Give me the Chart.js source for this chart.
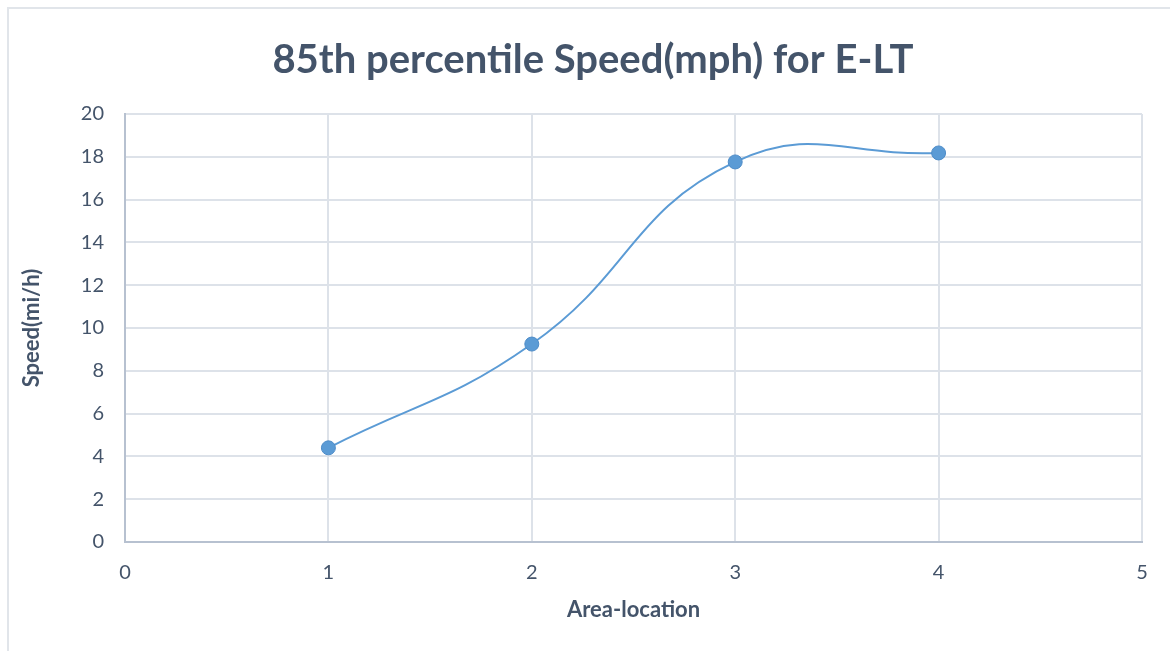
<!DOCTYPE html>
<html lang="en">
<head>
    <meta charset="UTF-8">
    <title>85th percentile Speed(mph) for E-LT</title>
    <script src="https://cdn.jsdelivr.net/npm/chart.js"></script>
    <style>
        body {
            margin: 0;
            background: #fff;
        }

        #frame {
            position: absolute;
            left: 7px;
            top: 7px;
            width: 1200px;
            height: 700px;
            border: 2px solid #E1E5EA;
        }

        #wrap {
            position: absolute;
            left: 0;
            top: 0;
            width: 1170px;
            height: 651px;
        }
    </style>
</head>
<body>
    <div id="frame"></div>
    <div id="wrap">
        <canvas id="speedChart"></canvas>
    </div>

    <script>
        // data
        const areaLocations = [1, 2, 3, 4];
        const speeds = [4.4, 9.25, 17.76, 18.18];
        const xTicks = [0, 1, 2, 3, 4, 5];
        const yTicks = [0, 2, 4, 6, 8, 10, 12, 14, 16, 18, 20];

        const textColor = '#44546A';
        const gridColor = '#DDE2E9';
        const axisColor = '#B7C1D0';
        const blue = '#5B9BD5';

        const points = areaLocations.map((x, i) => ({ x: x, y: speeds[i] }));

        // title sits centred on the whole chart frame, not just the padded box
        const shiftTitle = {
            id: 'shiftTitle',
            afterLayout: c => {
                if (c.titleBlock) {
                    c.titleBlock.left += 17;
                    c.titleBlock.right += 17;
                }
            }
        };

        const ctx = document.getElementById('speedChart').getContext('2d');
        const chart = new Chart(ctx, {
            type: 'scatter',
            data: {
                datasets: [{
                    label: 'Speed',
                    data: points,
                    showLine: true,
                    tension: 0.45,
                    borderColor: blue,
                    borderWidth: 2,
                    backgroundColor: blue,
                    pointRadius: 7,
                    pointBorderColor: '#4E8CC8',
                    pointBorderWidth: 1
                }]
            },
            plugins: [shiftTitle],
            options: {
                responsive: true,
                maintainAspectRatio: false,
                animation: false,
                layout: {
                    padding: { left: 10, right: 28, top: 0, bottom: 19 }
                },
                plugins: {
                    legend: { display: false },
                    tooltip: { enabled: false },
                    title: {
                        display: true,
                        text: '85th percentile Speed(mph) for E-LT',
                        color: textColor,
                        font: { family: 'Lato', size: 40, weight: 'bold' },
                        padding: { top: 36, bottom: 30 }
                    }
                },
                scales: {
                    x: {
                        type: 'linear',
                        min: 0,
                        max: 5,
                        afterBuildTicks: s => { s.ticks = xTicks.map(v => ({ value: v })); },
                        afterFit: s => { s.height = 90; },
                        grid: { color: gridColor, lineWidth: 2, drawTicks: false },
                        border: { color: axisColor, width: 2 },
                        ticks: {
                            color: textColor,
                            padding: 19,
                            font: { family: 'Lato', size: 20 }
                        },
                        title: {
                            display: true,
                            text: 'Area-location',
                            color: textColor,
                            font: { family: 'Lato', size: 22, weight: 'bold' },
                            padding: { top: 0, bottom: 9 }
                        }
                    },
                    y: {
                        min: 0,
                        max: 20,
                        afterBuildTicks: s => { s.ticks = yTicks.map(v => ({ value: v })); },
                        afterFit: s => { s.width = 115; },
                        grid: { color: gridColor, lineWidth: 2, drawTicks: false },
                        border: { color: axisColor, width: 2 },
                        ticks: {
                            color: textColor,
                            padding: 21,
                            font: { family: 'Lato', size: 20 }
                        },
                        title: {
                            display: true,
                            text: 'Speed(mi/h)',
                            color: textColor,
                            font: { family: 'Lato', size: 22, weight: 'bold' },
                            padding: { top: 9, bottom: 0 }
                        }
                    }
                }
            }
        });
    </script>
</body>
</html>
